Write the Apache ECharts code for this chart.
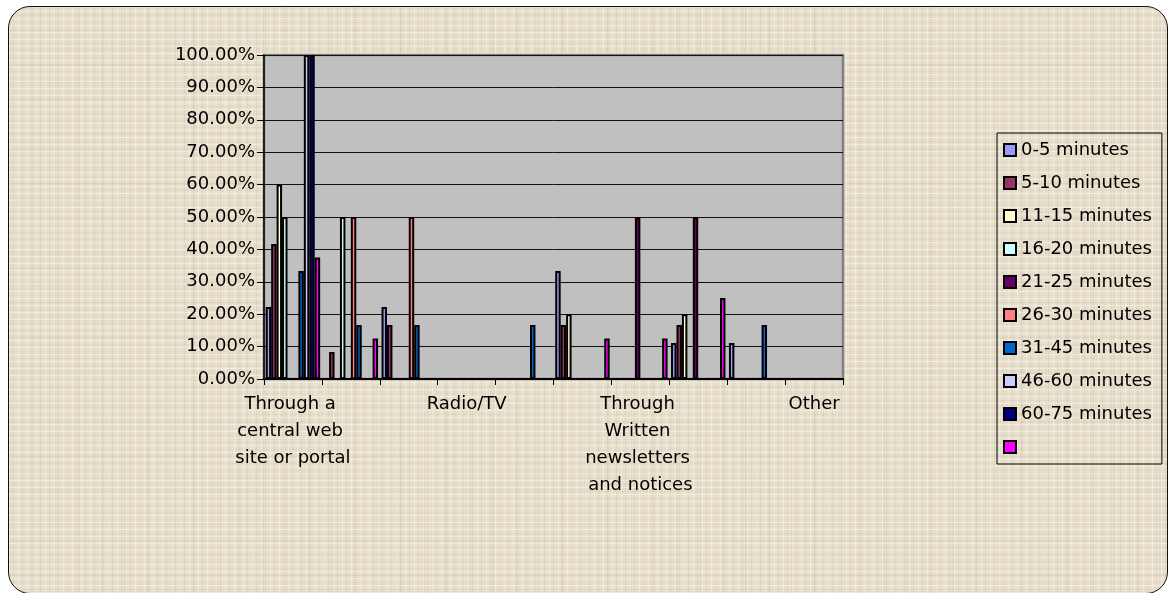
<!DOCTYPE html>
<html>
<head>
<meta charset="utf-8">
<title>Time spent by information source</title>
<script src="https://cdn.jsdelivr.net/npm/echarts@6/dist/echarts.min.js"></script>
<style>
  html, body { margin: 0; padding: 0; background: #ffffff; }
  #wrap { position: relative; width: 1170px; height: 593px; overflow: hidden; }
  /* linen-textured card behind the chart */
  #card {
    position: absolute; left: 8px; top: 6px; width: 1158px; height: 586px;
    border: 1.5px solid #111; border-radius: 22px;
    background-color: #e7dfcc;
    background-image:
      repeating-linear-gradient(0deg, rgba(255,255,248,0.40) 0 1px, transparent 1px 3px, rgba(150,130,100,0.08) 3px 4px, transparent 4px 7px),
      repeating-linear-gradient(90deg, rgba(255,255,248,0.35) 0 1px, transparent 1px 4px, rgba(140,120,90,0.09) 4px 5px, transparent 5px 9px),
      repeating-linear-gradient(90deg, rgba(120,100,70,0.05) 0 2px, transparent 2px 23px),
      repeating-linear-gradient(0deg, rgba(120,100,70,0.04) 0 2px, transparent 2px 17px);
  }
  #chart { position: absolute; left: 0; top: 0; width: 1170px; height: 593px; }
</style>
</head>
<body>
<div id="wrap">
  <div id="card"></div>
  <div id="chart"></div>
</div>
<script>
// Information sources (x axis)
const categories = [
  "Through a central web site or portal",
  "Through e-mail",
  "Newspapers",
  "Radio/TV",
  "Word of mouth",
  "Community meetings",
  "Through Written newsletters and notices",
  "Bulletin boards",
  "Telephone",
  "Other"
];

// Time bands (legend entries); the last band has no label
const seriesNames = [
  "0-5 minutes", "5-10 minutes", "11-15 minutes", "16-20 minutes", "21-25 minutes",
  "26-30 minutes", "31-45 minutes", "46-60 minutes", "60-75 minutes", " "
];

// Share of respondents (%) per source, one array per time band
const min0to5   = [22.22, 0, 22.22, 0, 0, 33.33, 0, 11.11, 11.11, 0];
const min5to10  = [41.67, 8.33, 16.67, 0, 0, 16.67, 0, 16.67, 0, 0];
const min11to15 = [60, 0, 0, 0, 0, 20, 0, 20, 0, 0];
const min16to20 = [50, 50, 0, 0, 0, 0, 0, 0, 0, 0];
const min21to25 = [0, 0, 0, 0, 0, 0, 50, 50, 0, 0];
const min26to30 = [0, 50, 50, 0, 0, 0, 0, 0, 0, 0];
const min31to45 = [33.33, 16.67, 16.67, 0, 16.67, 0, 0, 0, 16.67, 0];
const min46to60 = [100, 0, 0, 0, 0, 0, 0, 0, 0, 0];
const min60to75 = [100, 0, 0, 0, 0, 0, 0, 0, 0, 0];
const unlabeled = [37.5, 12.5, 0, 0, 0, 12.5, 12.5, 25, 0, 0];

const seriesValues = [min0to5, min5to10, min11to15, min16to20, min21to25,
                      min26to30, min31to45, min46to60, min60to75, unlabeled];

// Y axis: 0% to 100% in steps of 10
const yMin = 0, yMax = 100, yStep = 10;

const palette = ["#9999ff", "#993366", "#ffffcc", "#ccffff", "#660066",
                 "#ff8080", "#0066cc", "#ccccff", "#000080", "#ff00ff"];

const FONT = "DejaVu Sans";

const chart = echarts.init(document.getElementById("chart"), null, { renderer: "canvas" });

chart.setOption({
  animation: false,
  backgroundColor: "transparent",
  color: palette,
  textStyle: { fontFamily: FONT, color: "#000" },
  grid: {
    left: 264, top: 55, width: 579, height: 324,
    show: true, backgroundColor: "#c0c0c0", borderColor: "#808080", borderWidth: 2.5
  },
  legend: {
    orient: "vertical",
    left: 997, top: 133,
    padding: [7, 10, 7, 6],
    itemWidth: 12, itemHeight: 12, itemGap: 13,
    borderColor: "#000", borderWidth: 1,
    icon: "rect",
    selectedMode: false,
    itemStyle: { borderColor: "#000", borderWidth: 2 },
    textStyle: { fontFamily: FONT, fontSize: 18, color: "#000", lineHeight: 20 },
    data: seriesNames
  },
  xAxis: {
    type: "category",
    data: categories,
    axisLine: { show: true, onZero: true, lineStyle: { color: "#000", width: 2 } },
    axisTick: { show: true, interval: 0, length: 6, lineStyle: { color: "#000", width: 1 } },
    axisLabel: {
      interval: 2, margin: 12, color: "#000",
      fontFamily: FONT, fontSize: 18, lineHeight: 27,
      width: 120, overflow: "break", align: "center"
    },
    splitLine: { show: false }
  },
  yAxis: {
    type: "value",
    min: yMin, max: yMax, interval: yStep,
    axisLine: { show: true, lineStyle: { color: "#000", width: 1.5 } },
    axisTick: { show: true, length: 7, lineStyle: { color: "#000", width: 1 } },
    axisLabel: {
      margin: 9, color: "#000", fontFamily: FONT, fontSize: 18,
      formatter: v => v.toFixed(2) + "%"
    },
    splitLine: { show: true, lineStyle: { color: "#111", width: 1 } }
  },
  series: seriesNames.map((name, i) => ({
    name: name,
    type: "bar",
    data: seriesValues[i],
    barGap: "0%",
    barCategoryGap: "6%",
    itemStyle: { color: palette[i], borderColor: "#000", borderWidth: 2 },
    emphasis: { disabled: true }
  }))
});
</script>
</body>
</html>
